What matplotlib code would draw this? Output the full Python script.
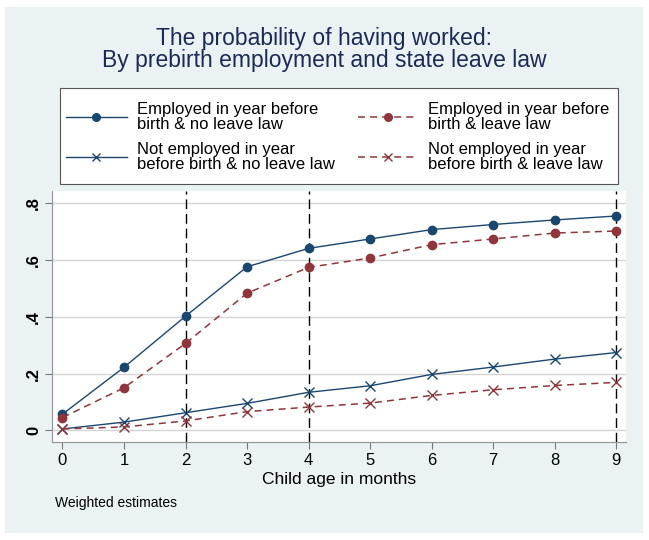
import numpy as np
import matplotlib.pyplot as plt
from matplotlib.patches import Rectangle

plt.rcParams['font.family'] = ['Liberation Sans', 'DejaVu Sans']

# data
months = [0, 1, 2, 3, 4, 5, 6, 7, 8, 9]
emp_noleave = [0.057, 0.222, 0.402, 0.576, 0.641, 0.674, 0.707, 0.725, 0.741, 0.755]
emp_leave = [0.045, 0.150, 0.306, 0.483, 0.574, 0.607, 0.654, 0.674, 0.695, 0.702]
notemp_noleave = [0.005, 0.029, 0.062, 0.095, 0.134, 0.157, 0.197, 0.223, 0.251, 0.274]
notemp_leave = [0.005, 0.012, 0.033, 0.066, 0.082, 0.096, 0.123, 0.143, 0.158, 0.169]
vlines = [2, 4, 9]
yticks = [0, 0.2, 0.4, 0.6, 0.8]
ylabels = ["0", ".2", ".4", ".6", ".8"]

blue = "#1a476f"
red = "#90353b"
bg = "#eaf2f3"
red_dash = (0, (4.6, 3.3))

W, H = 649, 540
fig = plt.figure(figsize=(W / 100, H / 100), dpi=100)
fig.patch.set_facecolor("white")
fig.patches.append(Rectangle((5 / W, 7 / H), 638 / W, 526 / H, transform=fig.transFigure,
                             facecolor=bg, edgecolor="none", zorder=-10))
# legend box
fig.patches.append(Rectangle((60 / W, (H - 184) / H), 558 / W, 96 / H, transform=fig.transFigure,
                             facecolor="white", edgecolor="#555555", linewidth=0.8, zorder=-5))

# plot area in pixels: x 52-626, y 191-442
ax = fig.add_axes([52 / W, (H - 442) / H, 574 / W, 251 / H])
ax.set_zorder(1)
ax.set_facecolor("white")
for s in ax.spines.values():
    s.set_color("#999999")
    s.set_linewidth(0.9)
ax.spines['top'].set_visible(False)
ax.spines['right'].set_visible(False)

ax.set_xlim(-0.17, 9.16)
ax.set_ylim(-0.041, 0.843)

for v in vlines:
    ax.axvline(v, color="black", linestyle=(0, (7, 3.5)), linewidth=1.0, zorder=2)

l1, = ax.plot(months, emp_noleave, color=blue, linewidth=1.0, marker="o", markersize=6, zorder=3)
l2, = ax.plot(months, emp_leave, color=red, linewidth=1.1, linestyle=red_dash, marker="o", markersize=6, zorder=3)
l3, = ax.plot(months, notemp_noleave, color=blue, linewidth=1.0, marker="x", markersize=7, markeredgewidth=1.0, zorder=3)
l4, = ax.plot(months, notemp_leave, color=red, linewidth=1.1, linestyle=red_dash, marker="x", markersize=7, markeredgewidth=1.0, zorder=3)

ax.set_yticks(yticks)
ax.set_yticklabels(ylabels, rotation=90, va="center", fontsize=12, fontweight="bold")
ax.set_xticks(months)
ax.set_xticklabels([str(m) for m in months], fontsize=12)
ax.tick_params(axis="both", length=5, color="#777777", pad=3)
ax.grid(axis="y", color="#d4d4d4", linewidth=1.0)
ax.set_axisbelow(True)
ax.set_xlabel("Child age in months", fontsize=12.5, labelpad=3)

fig.text(0.5, (H - 45) / H, "The probability of having worked:", ha="center", va="baseline",
         fontsize=16.5, color="#1c2a55")
fig.text(0.5, (H - 67) / H, "By prebirth employment and state leave law", ha="center", va="baseline",
         fontsize=16.5, color="#1c2a55")
fig.text(55 / W, (H - 503) / H, "Weighted estimates", ha="left", va="center", fontsize=10)

leg = fig.legend([l1, l3, l2, l4],
                 ["Employed in year before\nbirth & no leave law",
                  "Not employed in year\nbefore birth & no leave law",
                  "Employed in year before\nbirth & leave law",
                  "Not employed in year\nbefore birth & leave law"],
                 loc="center left", bbox_to_anchor=(60 / W, (H - 137) / H),
                 ncol=2, fontsize=12, frameon=False, borderpad=0.35, borderaxespad=0,
                 handlelength=3.65, labelspacing=0.6, columnspacing=1.38,
                 handletextpad=0.6)
for t in leg.get_texts():
    t.set_linespacing(1.0)
for h in leg.legend_handles:
    h.set_markersize(5.5)

fig.savefig("out.png", dpi=100, facecolor="white")
